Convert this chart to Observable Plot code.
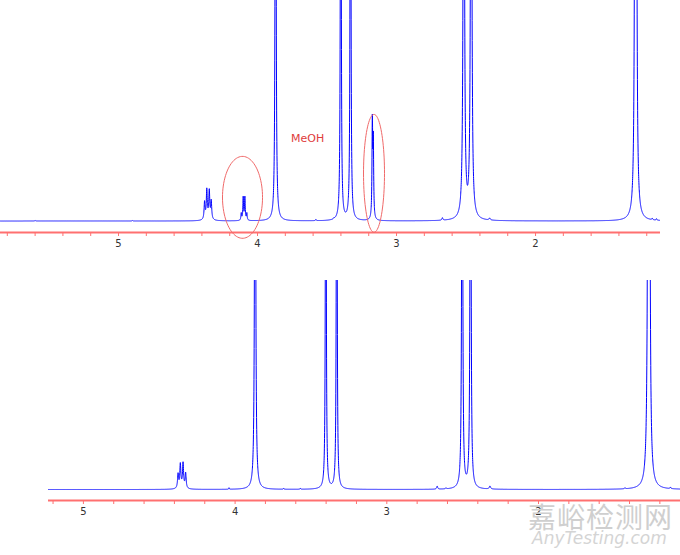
<!DOCTYPE html>
<html><head><meta charset="utf-8">
<script src="https://cdn.jsdelivr.net/npm/d3@7"></script>
<script src="https://cdn.jsdelivr.net/npm/@observablehq/plot@0.6"></script>
<style>
html,body{margin:0;padding:0;background:#fff}
body{width:680px;height:555px;position:relative;overflow:hidden;font-family:"DejaVu Sans",sans-serif}
#top{position:absolute;left:0;top:0}
#bot{position:absolute;left:0;top:270px}
.wm1{position:absolute;left:528px;top:496px;font-family:"Noto Sans CJK SC",sans-serif;font-size:28px;color:#cfcfcf;letter-spacing:1px;white-space:nowrap}
.wm2{position:absolute;left:532px;top:528px;font-family:"DejaVu Sans",sans-serif;font-style:italic;font-size:17px;color:#d4d4d4;white-space:nowrap}
</style></head><body>
<div id="top"></div><div id="bot"></div>
<div class="wm1">嘉峪检测网</div><div class="wm2">AnyTesting.com</div>
<script>
// ---- top spectrum (with MeOH) : peak list ----
const topShift  = [4.381, 4.365, 4.347, 4.333, 4.357, 4.117, 4.103, 4.091, 4.077, 3.870, 3.401, 3.331, 3.174, 3.167, 2.516, 2.463, 1.283, 1.276, 2.670, 2.330, 3.580, 3.450, 1.160, 1.130, 5.600, 4.900];
const topHeight = [17, 28, 27, 18, 3, 7, 23, 23, 7, 900, 800, 800, 95, 75, 800, 800, 800, 800, 2.5, 2, 1.2, 1, 1.5, 1.5, 0.6, 0.5];
const topWidth  = [0.004, 0.004, 0.004, 0.004, 0.02, 0.003, 0.003, 0.003, 0.003, 0.0028, 0.0026, 0.0026, 0.003, 0.003, 0.004, 0.004, 0.0035, 0.0035, 0.004, 0.005, 0.003, 0.003, 0.003, 0.003, 0.003, 0.003];

// ---- bottom spectrum : peak list ----
const botShift  = [4.376, 4.361, 4.343, 4.326, 4.352, 3.868, 3.402, 3.330, 2.503, 2.448, 1.276, 1.270, 2.668, 2.610, 2.320, 4.040, 3.680, 3.570, 1.430, 1.130];
const botHeight = [14, 23, 24, 15, 2, 900, 800, 800, 800, 800, 800, 800, 3, 1, 3, 1.5, 1, 1, 1, 1.5];
const botWidth  = [0.004, 0.004, 0.004, 0.004, 0.02, 0.0028, 0.0022, 0.0022, 0.0027, 0.0027, 0.0035, 0.0035, 0.004, 0.003, 0.005, 0.002, 0.002, 0.002, 0.003, 0.003];

// axis ticks
const majorTicks = [5, 4, 3, 2];
const topMinor = [5.8,5.6,5.4,5.2,5.0,4.8,4.6,4.4,4.2,4.0,3.8,3.6,3.4,3.2,3.0,2.8,2.6,2.4,2.2,2.0,1.8,1.6,1.4,1.2];
const botMinor = [5.2,5.0,4.8,4.6,4.4,4.2,4.0,3.8,3.6,3.4,3.2,3.0,2.8,2.6,2.4,2.2,2.0,1.8,1.6,1.4,1.2];

// annotations (top panel)
const ellipseShift = [4.108, 3.162];
const ellipseLevel = [23.7, 47.7];
const ellipseRx = [0.144, 0.0755];
const ellipseRy = [41, 59];
const noteText = ["MeOH"];
const noteShift = [3.64];
const noteLevel = [82.7];

const BLUE = "#0000ff", RED = "#ff7070", ELL = "#f06a6a";

function spectrum(shifts, heights, widths, lo, hi, cap) {
  const pts = [];
  for (let x = hi; x >= lo - 1e-9; x -= 0.0005) {
    let v = 0;
    for (let i = 0; i < shifts.length; i++) {
      const d = (x - shifts[i]) / widths[i];
      v += heights[i] / (1 + d * d);
    }
    pts.push({ppm: x, I: Math.min(v, cap)});
  }
  return pts;
}
function fmt(d){ return Math.abs(d - Math.round(d)) < 1e-6 ? String(Math.round(d)) : ""; }

// top panel
const tDom = [5.849, 1.101], tY = [-11.5, 220.7];
const tData = spectrum(topShift, topHeight, topWidth, tDom[1], tDom[0], tY[1] + 40);
const ell = [];
ellipseShift.forEach((c, k) => {
  for (let a = 0; a <= 360; a += 4) {
    const t = a * Math.PI / 180;
    ell.push({k, ppm: c + ellipseRx[k] * Math.cos(t), I: ellipseLevel[k] + ellipseRy[k] * Math.sin(t)});
  }
});
const notes = noteText.map((t, i) => ({t, ppm: noteShift[i], I: noteLevel[i]}));

const topPlot = Plot.plot({
  width: 680, height: 262,
  marginLeft: 0, marginRight: 20, marginTop: 0, marginBottom: 30,
  style: {fontFamily: "DejaVu Sans, sans-serif", background: "transparent", overflow: "visible"},
  x: {domain: tDom},
  y: {domain: tY, axis: null},
  marks: [
    Plot.line(tData, {x: "ppm", y: "I", stroke: BLUE, strokeWidth: 1, clip: true}),
    Plot.ruleY([tY[0]], {stroke: RED, strokeWidth: 2}),
    Plot.axisX({ticks: topMinor, tickSize: 4, tickPadding: 3, stroke: RED, fill: "#333", fontSize: 10, tickFormat: fmt, label: null}),
    Plot.line(ell, {x: "ppm", y: "I", z: "k", stroke: ELL, strokeWidth: 1}),
    Plot.text(notes, {x: "ppm", y: "I", text: "t", fill: "#e03c3c", fontSize: 11})
  ]
});
document.getElementById("top").appendChild(topPlot);

// bottom panel
const bDom = [5.23, 1.064], bY = [-11, 209];
const bData = spectrum(botShift, botHeight, botWidth, bDom[1], bDom[0], bY[1] + 40);
const botPlot = Plot.plot({
  width: 680, height: 285,
  marginLeft: 48, marginRight: 0, marginTop: 10, marginBottom: 55,
  style: {fontFamily: "DejaVu Sans, sans-serif", background: "transparent", overflow: "visible"},
  x: {domain: bDom},
  y: {domain: bY, axis: null},
  marks: [
    Plot.line(bData, {x: "ppm", y: "I", stroke: BLUE, strokeWidth: 1, clip: true}),
    Plot.ruleY([bY[0]], {stroke: RED, strokeWidth: 2}),
    Plot.axisX({ticks: botMinor, tickSize: 4, tickPadding: 3, stroke: RED, fill: "#333", fontSize: 10, tickFormat: fmt, label: null})
  ]
});
document.getElementById("bot").appendChild(botPlot);
</script>
</body></html>
